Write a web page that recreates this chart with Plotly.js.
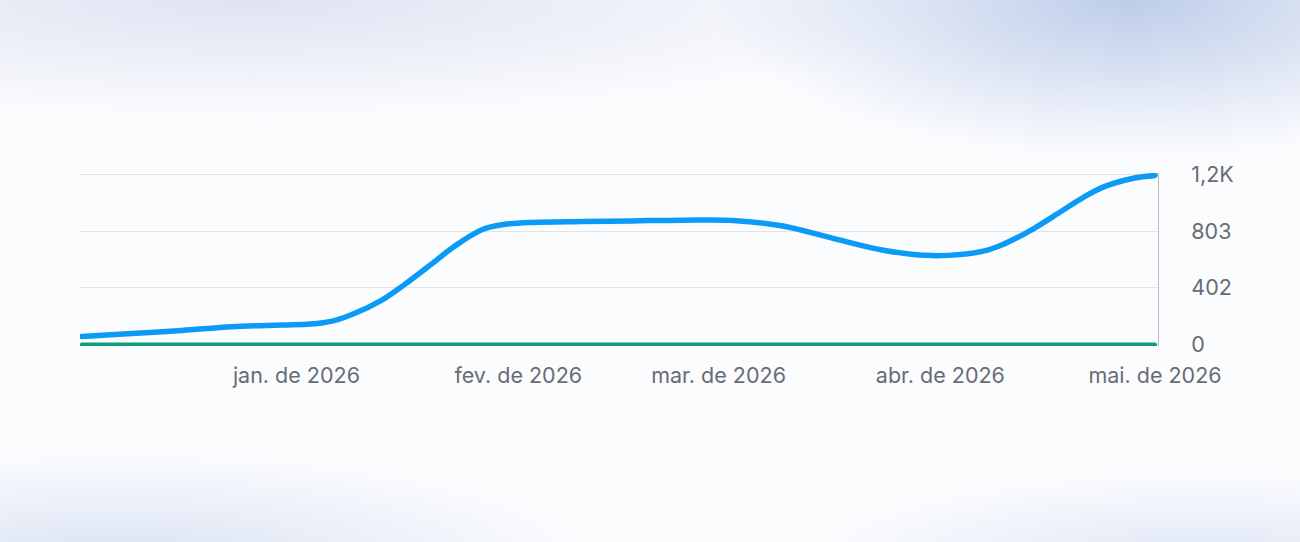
<!DOCTYPE html>
<html>
<head>
<meta charset="utf-8">
<script src="https://cdn.plot.ly/plotly-3.0.1.min.js"></script>
<style>
  html, body { margin: 0; padding: 0; }
  body {
    width: 1300px; height: 542px; overflow: hidden;
    background:
      radial-gradient(ellipse 420px 160px at 1130px 0px, rgba(186,202,232,0.95), rgba(186,202,232,0) 100%),
      radial-gradient(ellipse 700px 120px at 250px 0px, rgba(218,223,240,0.85), rgba(218,223,240,0) 100%),
      radial-gradient(ellipse 480px 110px at 120px 560px, rgba(212,222,240,0.85), rgba(212,222,240,0) 100%),
      radial-gradient(ellipse 400px 90px at 1200px 560px, rgba(214,224,242,0.75), rgba(214,224,242,0) 100%),
      #fbfcfe;
  }
  #chart { width: 1300px; height: 542px; }
  .scatterlayer .js-line { stroke-linecap: round !important; }
</style>
</head>
<body>
<div id="chart"></div>
<script>
// points (weekly, a few extra where the curve is steep)
let dates = ['2025-12-02', '2025-12-09', '2025-12-16', '2025-12-23', '2025-12-30',
    '2026-01-03', '2026-01-06', '2026-01-09', '2026-01-13', '2026-01-16', '2026-01-20',
    '2026-01-23', '2026-01-27', '2026-01-30',
    '2026-02-03', '2026-02-10', '2026-02-17', '2026-02-24',
    '2026-03-03', '2026-03-10', '2026-03-17', '2026-03-24', '2026-03-31',
    '2026-04-07', '2026-04-10', '2026-04-14', '2026-04-17', '2026-04-21', '2026-04-24',
    '2026-04-28', '2026-05-01']
let blueValues = [58, 78, 100, 127, 138,
    145, 166, 218, 317, 421, 575,
    693, 815, 850,
    865, 871, 876, 881,
    879, 840, 752, 668, 630,
    662, 715, 820, 915, 1043, 1120,
    1178, 1198]
let greenValues = dates.map(() => 0)

let monthTicks = ['2026-01-01', '2026-02-01', '2026-03-01', '2026-04-01', '2026-05-01']
let monthLabels = ['jan. de 2026', 'fev. de 2026', 'mar. de 2026', 'abr. de 2026', 'mai. de 2026']
let yTicks = [0, 402, 803, 1205]
let yLabels = ['0', '402', '803', '1,2K']

let chart = document.getElementById('chart')

Plotly.newPlot(chart, [{
    x: dates,
    y: blueValues,
    mode: 'lines',
    line: { color: '#0b9bf6', width: 5.5, shape: 'spline', smoothing: 1 },
    hoverinfo: 'skip'
}, {
    x: dates,
    y: greenValues,
    mode: 'lines',
    line: { color: '#0f9e7d', width: 4 },
    hoverinfo: 'skip'
}], {
    width: 1300,
    height: 542,
    margin: { l: 80, r: 142, t: 173, b: 196 },
    paper_bgcolor: 'rgba(0,0,0,0)',
    plot_bgcolor: 'rgba(0,0,0,0)',
    showlegend: false,
    font: { family: 'Inter, "Noto Sans", sans-serif', size: 21.5, color: '#686c75' },
    xaxis: {
        type: 'date',
        range: ['2025-12-01 18:00', '2026-05-01 10:00'],
        tickvals: monthTicks,
        ticktext: monthLabels,
        showgrid: false,
        zeroline: false,
        showline: false,
        ticks: 'outside',
        ticklen: 10,
        tickcolor: 'rgba(0,0,0,0)'
    },
    yaxis: {
        side: 'right',
        range: [-10, 1215],
        tickvals: yTicks,
        ticktext: yLabels,
        showgrid: true,
        gridcolor: '#e2e3e9',
        gridwidth: 1,
        zeroline: false,
        showline: true,
        linecolor: '#b9bcc5',
        linewidth: 1,
        ticks: 'outside',
        ticklen: 28,
        tickcolor: 'rgba(0,0,0,0)'
    }
}, { staticPlot: true });
</script>
</body>
</html>
